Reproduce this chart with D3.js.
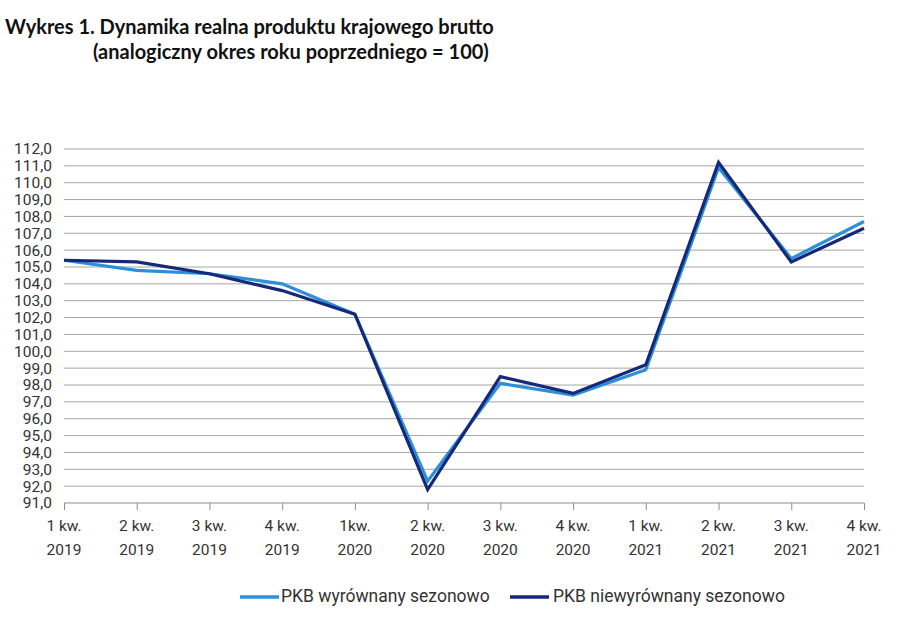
<!DOCTYPE html>
<html><head><meta charset="utf-8">
<script src="https://cdn.jsdelivr.net/npm/d3@7"></script>
<style>body{margin:0;background:#fff}svg{display:block}</style>
</head><body>
<svg id="c" width="900" height="618"></svg>
<script>
const quarters = ["1 kw.","2 kw.","3 kw.","4 kw.","1kw.","2 kw.","3 kw.","4 kw.","1 kw.","2 kw.","3 kw.","4 kw."];
const years = ["2019","2019","2019","2019","2020","2020","2020","2020","2021","2021","2021","2021"];
const sezonowoWyr = [105.4,104.8,104.6,104.0,102.2,92.3,98.1,97.4,98.9,110.9,105.5,107.7];
const sezonowoNiewyr = [105.4,105.3,104.6,103.6,102.2,91.8,98.5,97.5,99.2,111.2,105.3,107.3];
const yTicks = d3.range(91,113,1);
const seriesNames = ["PKB wyrównany sezonowo","PKB niewyrównany sezonowo"];
const colors = ["#2b8fd9","#162878"];

(function(){
const svg = d3.select("#c");
const L=64,R=864,T=149,B=503;
const x = d3.scalePoint().domain(d3.range(quarters.length)).range([L,R]);
const y = d3.scaleLinear().domain([91,112]).range([B,T]);

// title
svg.append("text").attr("x",5).attr("y",34).attr("font-family","Lato, 'Open Sans', sans-serif")
  .attr("font-weight",700).attr("font-size",20).attr("fill","#111")
  .text("Wykres 1. Dynamika realna produktu krajowego brutto");
svg.append("text").attr("x",93).attr("y",59).attr("font-family","Lato, 'Open Sans', sans-serif")
  .attr("font-weight",700).attr("font-size",20).attr("fill","#111")
  .text("(analogiczny okres roku poprzedniego = 100)");

// grid
svg.append("g").selectAll("line").data(yTicks.filter(d=>d>91)).join("line")
  .attr("x1",L).attr("x2",R).attr("y1",d=>y(d)).attr("y2",d=>y(d))
  .attr("stroke","#a6a6a6").attr("stroke-width",1);

// y axis labels
const yAxis = d3.axisLeft(y).tickValues(yTicks).tickSize(0).tickPadding(12)
  .tickFormat(d=>d3.format(".1f")(d).replace(".",","));
const ya = svg.append("g").attr("transform",`translate(${L},0)`).call(yAxis);
ya.select(".domain").remove();
ya.selectAll("text").attr("font-family","Roboto, sans-serif").attr("font-size",15.5).attr("fill","#333");

// x axis
const xAxis = d3.axisBottom(x).tickSize(7).tickFormat("");
const xa = svg.append("g").attr("transform",`translate(0,${B})`).call(xAxis);
xa.select(".domain").attr("stroke","#8c8c8c").attr("d",`M${L},0H${R}`);
xa.selectAll(".tick line").attr("stroke","#8c8c8c");
const lbl = svg.append("g").attr("font-family","Roboto, sans-serif").attr("font-size",15.5).attr("fill","#333").attr("text-anchor","middle");
lbl.selectAll("text.q").data(quarters).join("text").attr("class","q").attr("x",(d,i)=>x(i)).attr("y",531).text(d=>d);
lbl.selectAll("text.yr").data(years).join("text").attr("class","yr").attr("x",(d,i)=>x(i)).attr("y",555).text(d=>d);

// lines
const line = d3.line().x((d,i)=>x(i)).y(d=>y(d));
[sezonowoWyr,sezonowoNiewyr].forEach((s,k)=>{
  svg.append("path").datum(s).attr("d",line).attr("fill","none")
    .attr("stroke",colors[k]).attr("stroke-width",3.2).attr("stroke-linejoin","miter");
});

// legend
const leg = [{x:240,tx:281},{x:510,tx:553}];
leg.forEach((p,k)=>{
  svg.append("line").attr("x1",p.x).attr("x2",p.x+39).attr("y1",597).attr("y2",597)
    .attr("stroke",colors[k]).attr("stroke-width",3.5);
  svg.append("text").attr("x",p.tx).attr("y",602).attr("font-family","Roboto, sans-serif")
    .attr("font-size",17.5).attr("fill","#333").text(seriesNames[k]);
});
})();
</script>
</body></html>
